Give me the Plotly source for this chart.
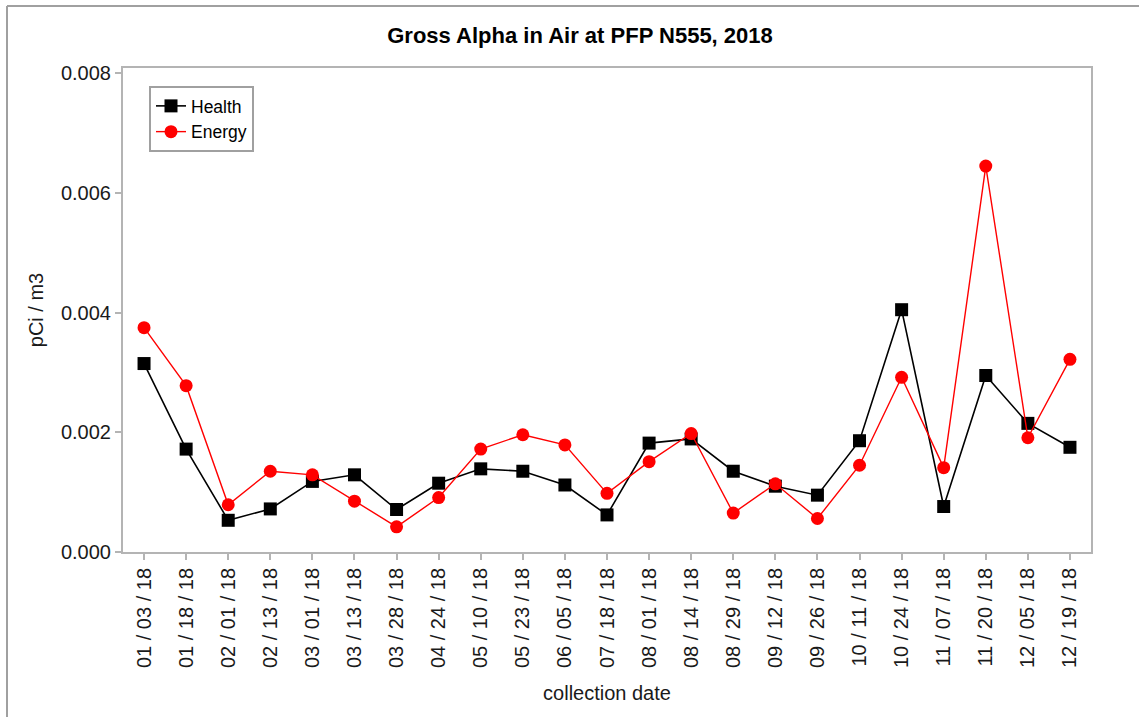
import plotly.graph_objects as go

dates = ["01 / 03 / 18", "01 / 18 / 18", "02 / 01 / 18", "02 / 13 / 18", "03 / 01 / 18",
         "03 / 13 / 18", "03 / 28 / 18", "04 / 24 / 18", "05 / 10 / 18", "05 / 23 / 18",
         "06 / 05 / 18", "07 / 18 / 18", "08 / 01 / 18", "08 / 14 / 18", "08 / 29 / 18",
         "09 / 12 / 18", "09 / 26 / 18", "10 / 11 / 18", "10 / 24 / 18", "11 / 07 / 18",
         "11 / 20 / 18", "12 / 05 / 18", "12 / 19 / 18"]

health = [0.00315, 0.00172, 0.00053, 0.00072, 0.00118, 0.00129, 0.00071, 0.00115, 0.00139,
          0.00135, 0.00112, 0.00062, 0.00182, 0.00189, 0.00135, 0.00110, 0.00095, 0.00186,
          0.00405, 0.00076, 0.00295, 0.00215, 0.00175]

energy = [0.00375, 0.00278, 0.00079, 0.00135, 0.00129, 0.00085, 0.00042, 0.00091, 0.00172,
          0.00196, 0.00179, 0.00098, 0.00151, 0.00198, 0.00065, 0.00114, 0.00056, 0.00145,
          0.00292, 0.00141, 0.00645, 0.00191, 0.00322]

y_ticks = [0, 0.002, 0.004, 0.006, 0.008]

W, H = 1139, 717
ML, MR, MT, MB = 123, 48, 68, 165
PW, PH = W - ML - MR, H - MT - MB

FONT = "Liberation Sans, Arial, sans-serif"
GRAY = "#b4b4b4"

fig = go.Figure()
fig.add_trace(go.Scatter(
    x=dates, y=health, name="Health", mode="lines+markers",
    line=dict(color="#000000", width=1.6),
    marker=dict(symbol="square", size=13, color="#000000"),
))
fig.add_trace(go.Scatter(
    x=dates, y=energy, name="Energy", mode="lines+markers",
    line=dict(color="#ff0000", width=1.4),
    marker=dict(symbol="circle", size=13, color="#ff0000"),
))


def px_x(p):
    return (p - ML) / PW


def px_y(p):
    return (H - MB - p) / PH


fig.update_layout(
    width=W, height=H,
    margin=dict(l=ML, r=MR, t=MT, b=MB, pad=0),
    paper_bgcolor="white", plot_bgcolor="white",
    font=dict(family=FONT, color="#1a1a1a"),
    title=dict(text="<b>Gross Alpha in Air at PFP N555, 2018</b>",
               x=580 / W, xref="container", xanchor="center",
               y=1 - 35 / H, yref="container", yanchor="middle",
               font=dict(size=22, color="#000000", family=FONT)),
    showlegend=True,
    legend=dict(x=px_x(149), y=px_y(86), xanchor="left", yanchor="top",
                bordercolor="#a0a0a0", borderwidth=2, bgcolor="white",
                font=dict(size=17.5, color="#000000", family=FONT),
                tracegroupgap=0, itemwidth=30, entrywidth=72, entrywidthmode="pixels"),
    xaxis=dict(type="category", range=[-0.5, len(dates) - 0.5],
               showline=True, mirror=True, linecolor=GRAY, linewidth=2,
               ticks="outside", ticklen=6, tickwidth=2, tickcolor=GRAY,
               tickangle=-90, tickfont=dict(size=20, family=FONT, color="#1a1a1a"),
               showgrid=False, zeroline=False,
               title=dict(text="collection date", font=dict(size=20, family=FONT, color="#1a1a1a"),
                          standoff=19)),
    yaxis=dict(range=[0, 0.00809], tickvals=y_ticks, tickformat=".3f",
               showline=True, mirror=True, linecolor=GRAY, linewidth=2,
               ticks="outside", ticklen=6, tickwidth=2, tickcolor=GRAY,
               tickfont=dict(size=20, family=FONT, color="#1a1a1a"),
               showgrid=False, zeroline=False,
               title=dict(text="pCi / m3", font=dict(size=20, family=FONT, color="#1a1a1a"),
                          standoff=12)),
    shapes=[
        dict(type="line", xref="paper", yref="paper",
             x0=px_x(7), x1=px_x(7), y0=px_y(6), y1=px_y(H + 5),
             line=dict(color="#a0a0a0", width=2)),
        dict(type="line", xref="paper", yref="paper",
             x0=px_x(7), x1=px_x(W + 5), y0=px_y(6), y1=px_y(6),
             line=dict(color="#a0a0a0", width=2)),
    ],
)

fig.write_html("out.html", config={"displayModeBar": False},
               post_script="document.body.style.margin='0';document.body.style.overflow='hidden';")
